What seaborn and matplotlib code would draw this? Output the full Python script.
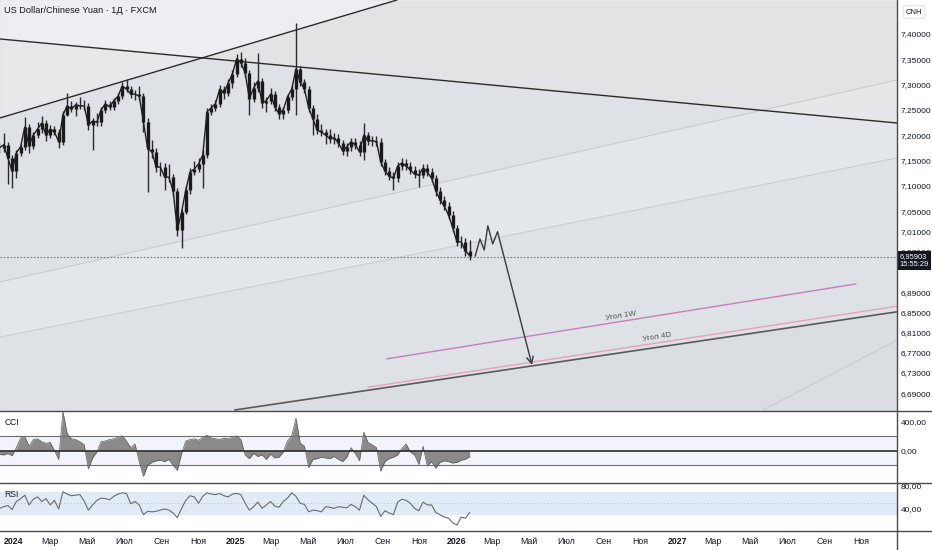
import numpy as np
import pandas as pd
import seaborn as sns
import matplotlib.pyplot as plt
import matplotlib.dates as mdates
import matplotlib.transforms as mtransforms
from matplotlib.lines import Line2D

# ---- data (weekly samples) ----
week_start = '2023-12-08'

close_w = [7.175, 7.181, 7.155, 7.129, 7.165, 7.177, 7.216, 7.179, 7.200, 7.212,
           7.224, 7.200, 7.212, 7.206, 7.187, 7.240, 7.258, 7.252, 7.260, 7.258,
           7.258, 7.220, 7.228, 7.226, 7.250, 7.262, 7.256, 7.268, 7.277, 7.297,
           7.291, 7.281, 7.281, 7.277, 7.226, 7.173, 7.167, 7.137, 7.137, 7.117,
           7.117, 7.090, 7.013, 7.048, 7.092, 7.127, 7.133, 7.143, 7.161, 7.246,
           7.254, 7.262, 7.291, 7.283, 7.303, 7.321, 7.351, 7.343, 7.323, 7.272,
           7.293, 7.307, 7.264, 7.268, 7.281, 7.256, 7.242, 7.250, 7.276, 7.291,
           7.331, 7.305, 7.291, 7.254, 7.232, 7.210, 7.206, 7.200, 7.193, 7.195,
           7.185, 7.169, 7.177, 7.187, 7.181, 7.167, 7.200, 7.189, 7.189, 7.187,
           7.147, 7.129, 7.119, 7.115, 7.139, 7.145, 7.139, 7.131, 7.123, 7.121,
           7.135, 7.127, 7.115, 7.090, 7.072, 7.060, 7.042, 7.017, 6.989, 6.989,
           6.971, 6.962]

high_w = [7.184, 7.204, 7.186, 7.161, 7.171, 7.182, 7.236, 7.222, 7.206, 7.226,
          7.238, 7.230, 7.220, 7.218, 7.212, 7.248, 7.283, 7.267, 7.265, 7.275,
          7.269, 7.263, 7.234, 7.244, 7.256, 7.269, 7.267, 7.273, 7.283, 7.305,
          7.311, 7.297, 7.289, 7.297, 7.283, 7.234, 7.190, 7.175, 7.147, 7.145,
          7.143, 7.123, 7.095, 7.054, 7.099, 7.135, 7.149, 7.155, 7.171, 7.254,
          7.261, 7.269, 7.299, 7.297, 7.311, 7.329, 7.360, 7.364, 7.352, 7.329,
          7.305, 7.362, 7.313, 7.275, 7.293, 7.287, 7.261, 7.256, 7.281, 7.299,
          7.422, 7.337, 7.311, 7.297, 7.260, 7.242, 7.222, 7.212, 7.212, 7.204,
          7.202, 7.190, 7.184, 7.194, 7.194, 7.188, 7.224, 7.206, 7.198, 7.198,
          7.194, 7.153, 7.137, 7.127, 7.147, 7.155, 7.153, 7.147, 7.139, 7.133,
          7.143, 7.143, 7.135, 7.121, 7.097, 7.080, 7.068, 7.050, 7.022, 7.001,
          6.997, 6.993]

low_w = [7.165, 7.167, 7.104, 7.095, 7.115, 7.159, 7.171, 7.165, 7.173, 7.194,
         7.204, 7.188, 7.194, 7.200, 7.175, 7.180, 7.238, 7.246, 7.238, 7.252,
         7.250, 7.210, 7.171, 7.218, 7.218, 7.244, 7.250, 7.250, 7.261, 7.271,
         7.285, 7.273, 7.269, 7.269, 7.206, 7.088, 7.155, 7.127, 7.119, 7.092,
         7.107, 7.080, 7.001, 6.977, 7.044, 7.084, 7.121, 7.127, 7.095, 7.155,
         7.240, 7.248, 7.256, 7.271, 7.277, 7.293, 7.315, 7.335, 7.315, 7.240,
         7.265, 7.285, 7.254, 7.246, 7.261, 7.248, 7.232, 7.232, 7.244, 7.269,
         7.240, 7.297, 7.283, 7.246, 7.200, 7.202, 7.198, 7.182, 7.184, 7.182,
         7.177, 7.161, 7.159, 7.169, 7.173, 7.159, 7.151, 7.180, 7.178, 7.178,
         7.139, 7.121, 7.111, 7.092, 7.107, 7.131, 7.131, 7.123, 7.115, 7.097,
         7.115, 7.119, 7.107, 7.080, 7.064, 7.052, 7.034, 7.009, 6.981, 6.977,
         6.961, 6.953]

cci_w = [-50, -60, -40, -70, 40, 170, 190, 60, 150, 160,
         120, 100, 110, 0, -120, 530, 230, 160, 150, 120,
         80, -250, -100, -20, 120, 130, 150, 160, 180, 200,
         130, 40, 90, -150, -350, -200, -160, -140, -130, -150,
         -120, -200, -270, -40, 130, 150, 160, 140, 180, 210,
         170, 160, 150, 170, 160, 180, 200, 150, -60, -110,
         -40, -80, -60, -120, -50, -100, -90, -20, 130, 200,
         440, 100, 60, -230, -120, -110, -90, -100, -110, -80,
         -120, -150, -90, 40, -40, -140, 250, 110, 80, 40,
         -280, -150, -110, -90, -60, 30, 90, -20, -60, -190,
         60, -210, -150, -240, -160, -140, -150, -170, -160, -130,
         -120, -80]

rsi_w = [41, 44, 46, 39, 53, 58, 64, 47, 57, 61,
         53, 58, 47, 55, 40, 70, 66, 63, 64, 65,
         54, 38, 47, 55, 59, 58, 56, 62, 66, 68,
         67, 49, 53, 47, 30, 36, 35, 36, 38, 40,
         38, 33, 25, 41, 55, 63, 61, 50, 62, 68,
         66, 65, 67, 63, 61, 66, 67, 65, 50, 38,
         44, 52, 41, 47, 53, 45, 43, 53, 59, 68,
         62, 50, 48, 35, 38, 37, 35, 44, 43, 41,
         44, 43, 42, 48, 44, 38, 64, 56, 50, 44,
         27, 37, 33, 30, 52, 57, 55, 50, 41, 37,
         52, 47, 47, 34, 30, 26, 24, 16, 12, 26,
         24, 34]

last_price = 6.95903

# drawing anchors (date, price)
rising_line = [('2023-12-09', 7.234), ('2025-09-25', 7.467)]
falling_line = [('2023-12-09', 7.390), ('2027-12-30', 7.224)]
bottom_line = [('2024-12-31', 6.657), ('2027-12-30', 6.851)]
fan_a = [('2023-12-09', 6.910), ('2027-12-30', 7.309)]
fan_b = [('2023-12-09', 6.801), ('2027-12-30', 7.155)]
fan_d = [('2027-05-23', 6.657), ('2027-12-30', 6.795)]
ray_4d = [('2025-08-08', 6.702), ('2027-12-30', 6.862)]
ray_1w = [('2025-09-08', 6.758), ('2027-10-23', 6.906)]

zig_dates = ['2026-02-01', '2026-02-09', '2026-02-16', '2026-02-22', '2026-03-02', '2026-03-10']
zig_prices = [6.961, 6.995, 6.973, 7.021, 6.985, 7.009]
arrow_end = ('2026-05-06', 6.746)

price_ticks = [7.40, 7.35, 7.30, 7.25, 7.20, 7.15, 7.10, 7.05, 7.01, 6.97,
               6.89, 6.85, 6.81, 6.77, 6.73, 6.69]
month_names = ['Янв', 'Фев', 'Мар', 'Апр', 'Май', 'Июн',
               'Июл', 'Авг', 'Сен', 'Окт', 'Ноя', 'Дек']

# ---- figure ----
sns.set_theme(style='white')
plt.rcParams['font.family'] = ['Liberation Sans', 'DejaVu Sans']

W, H = 932, 550
fig = plt.figure(figsize=(W / 100, H / 100), dpi=100, facecolor='white')


def pane(x0, y0, x1, y1):
    return fig.add_axes([x0 / W, 1 - y1 / H, (x1 - x0) / W, (y1 - y0) / H])


ax = pane(0, 0, 897, 411)
ax_cci = pane(0, 411, 897, 483)
ax_rsi = pane(0, 483, 897, 531)

dates = pd.date_range(week_start, periods=len(close_w), freq='7D')
df = pd.DataFrame({'date': dates, 'close': close_w, 'high': high_w, 'low': low_w,
                   'cci': cci_w, 'rsi': rsi_w})
df['open'] = df['close'].shift(1).fillna(df['close'])

xmin, xmax = mdates.date2num(pd.Timestamp('2023-12-09')), mdates.date2num(pd.Timestamp('2027-12-30'))
ymin, ymax = 6.655, 7.467


def line_vals(anchor, xs):
    (d0, p0), (d1, p1) = anchor
    t0, t1 = mdates.date2num(pd.Timestamp(d0)), mdates.date2num(pd.Timestamp(d1))
    return p0 + (p1 - p0) * (xs - t0) / (t1 - t0)


def draw_line(anchor, **kw):
    xs = [mdates.date2num(pd.Timestamp(d)) for d, _ in anchor]
    ys = [p for _, p in anchor]
    ax.plot(xs, ys, **kw)


xs = np.linspace(xmin, xmax, 800)
fa, fb = line_vals(fan_a, xs), line_vals(fan_b, xs)
fall, rise = line_vals(falling_line, xs), line_vals(rising_line, xs)

ax.set_facecolor('#dee1e6')
# shaded zones
ax.fill_between(xs, fb, fa, color='#e3e6ea', lw=0)
ax.fill_between(xs, ymin, line_vals(bottom_line, xs), color='#dadde2', lw=0)
ax.fill_between(xs, fall, ymax, color='#e2e3e5', lw=0)
ax.fill_between(xs, fall, fa, where=fa > fall, interpolate=True, color='#e6e7e9', lw=0)
ax.fill_between(xs, rise, ymax, color='#e7e8ea', lw=0)
ax.fill_between(xs, np.maximum(rise, fall), ymax, color='#eceef1', lw=0)

# drawings
for fl in (fan_a, fan_b, fan_d):
    draw_line(fl, color='#c9ccd1', lw=0.8)
draw_line(rising_line, color='#2b2b2b', lw=1.0)
draw_line(falling_line, color='#2b2b2b', lw=1.0)
draw_line(bottom_line, color='#5a5a5a', lw=1.2)
draw_line(ray_4d, color='#e8a0bf', lw=1.0)
draw_line(ray_1w, color='#c77dbd', lw=1.0)

ax.text(pd.Timestamp('2026-09-30'), 6.843, 'Угол 1W', fontsize=5.8, color='#555555',
        rotation=9, ha='center', va='center')
ax.text(pd.Timestamp('2026-11-28'), 6.801, 'Угол 4D', fontsize=5.8, color='#555555',
        rotation=9, ha='center', va='center')

ax.axhline(last_price, color='#7a7a7a', lw=0.8, ls=(0, (1.5, 1.5)))

# price: weekly candles
ax.vlines(df['date'], df['low'], df['high'], color='#2a2a2a', lw=1.0)
ax.vlines(df['date'], df['open'], df['close'], color='#1a1a1a', lw=2.4)
sns.lineplot(data=df, x='date', y='close', ax=ax, color='#1f1f1f', lw=1.0)

# projection
ax.plot(pd.to_datetime(zig_dates), zig_prices, color='#3a3a3a', lw=1.0)
ax.annotate('', xy=(pd.Timestamp(arrow_end[0]), arrow_end[1]),
            xytext=(pd.Timestamp(zig_dates[-1]), zig_prices[-1]),
            arrowprops=dict(arrowstyle='->', color='#3a3a3a', lw=1.0, shrinkA=0, shrinkB=0))

ax.set_xlim(xmin, xmax)
ax.set_ylim(ymin, ymax)
ax.yaxis.tick_right()
ax.set_yticks(price_ticks)
ax.set_yticklabels([f'{v:.5f}'.replace('.', ',') for v in price_ticks])
ax.set_xticks([])
ax.set_xlabel('')
ax.set_ylabel('')

blend = mtransforms.blended_transform_factory(ax.transAxes, ax.transData)
ax.text(1.003, last_price - 0.007, '6,95903\n15:55:29', transform=blend, fontsize=5.4,
        color='white', ha='left', va='center', linespacing=1.1, clip_on=False, zorder=10,
        bbox=dict(boxstyle='square,pad=0.3', fc='#131722', ec='none'))
ax.text(0.005, 0.975, 'US Dollar/Chinese Yuan · 1Д · FXCM', transform=ax.transAxes,
        fontsize=6.6, color='#131722', ha='left', va='center')

# ---- CCI ----
ax_cci.set_facecolor('white')
ax_cci.axhspan(-200, 200, color='#f1f4fa', lw=0)
ax_cci.axhline(200, color='#6f6f6f', lw=0.8)
ax_cci.axhline(-200, color='#6f6f6f', lw=0.8)
ax_cci.fill_between(df['date'], df['cci'], 0, color='#8a8a8a', lw=0)
sns.lineplot(data=df, x='date', y='cci', ax=ax_cci, color='#5c5c5c', lw=0.5)
ax_cci.axhline(0, color='#2b2b2b', lw=1.2)
ax_cci.set_ylim(-441, 538)
ax_cci.set_xlim(xmin, xmax)
ax_cci.yaxis.tick_right()
ax_cci.set_yticks([400, 0])
ax_cci.set_yticklabels(['400,00', '0,00'])
ax_cci.set_xticks([])
ax_cci.set_xlabel('')
ax_cci.set_ylabel('')
ax_cci.text(0.005, 0.84, 'CCI', transform=ax_cci.transAxes, fontsize=6.2, color='#131722', va='center')

# ---- RSI ----
ax_rsi.set_facecolor('white')
ax_rsi.axhspan(30, 70, color='#e1ebf8', lw=0)
ax_rsi.axhline(50, color='#c5cbd6', lw=0.6, ls=(0, (2, 2)))
sns.lineplot(data=df, x='date', y='rsi', ax=ax_rsi, color='#6a6a6a', lw=0.8)
ax_rsi.set_ylim(1.7, 85.2)
ax_rsi.set_xlim(xmin, xmax)
ax_rsi.yaxis.tick_right()
ax_rsi.set_yticks([80, 40])
ax_rsi.set_yticklabels(['80,00', '40,00'])
ax_rsi.set_xlabel('')
ax_rsi.set_ylabel('')
ax_rsi.text(0.005, 0.77, 'RSI', transform=ax_rsi.transAxes, fontsize=6.2, color='#131722', va='center')

ticks = pd.date_range('2024-01-01', '2027-11-01', freq='2MS')
ax_rsi.set_xticks(mdates.date2num(ticks))
ax_rsi.set_xticklabels([str(t.year) if t.month == 1 else month_names[t.month - 1] for t in ticks])

for a in (ax, ax_cci, ax_rsi):
    for s in a.spines.values():
        s.set_visible(False)
    a.tick_params(axis='both', length=0, labelsize=6, labelcolor='#131722', pad=2.5)
ax_rsi.tick_params(axis='x', pad=4, labelsize=6.3)
for lab, t in zip(ax_rsi.get_xticklabels(), ticks):
    if t.month == 1:
        lab.set_fontweight('bold')

# pane separators and axis border
for yy in (411, 483, 531):
    fig.add_artist(Line2D([0, 1], [1 - yy / H, 1 - yy / H], color='#4a4a4a', lw=1.0))
fig.add_artist(Line2D([897 / W, 897 / W], [0, 1], color='#4a4a4a', lw=1.0))

fig.text(914 / W, 1 - 12 / H, 'CNH', fontsize=5.5, color='#131722', ha='center', va='center',
         bbox=dict(boxstyle='round,pad=0.35', fc='white', ec='#e0e3eb', lw=0.8))

fig.savefig('out.png', dpi=100, facecolor='white')
